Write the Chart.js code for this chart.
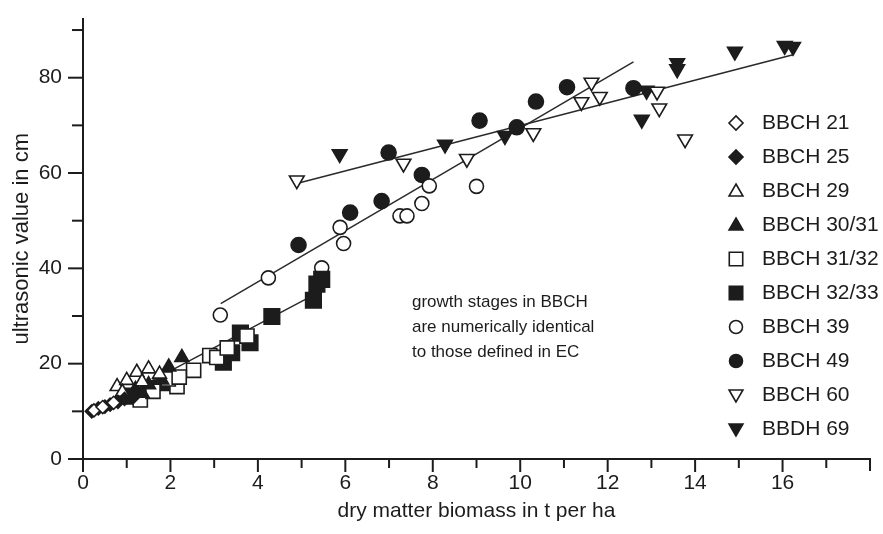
<!DOCTYPE html>
<html><head><meta charset="utf-8">
<script src="https://cdn.jsdelivr.net/npm/chart.js@4.4.0/dist/chart.umd.min.js"></script>
<style>html,body{margin:0;padding:0;background:#fff}#wrap{width:883px;height:534px;position:relative}</style>
</head><body><div id="wrap"><canvas id="c"></canvas></div>
<script>
// ---- data (dry matter biomass t/ha, ultrasonic value cm) ----
const seriesNames = ['BBCH 21','BBCH 25','BBCH 29','BBCH 30/31','BBCH 31/32','BBCH 32/33','BBCH 39','BBCH 49','BBCH 60','BBDH 69'];
const bbch21 = [[0.25,10.2],[0.45,10.9],[0.7,11.8]];
const bbch25 = [[0.2,10.0],[0.35,10.6],[0.5,11.0],[0.62,11.4],[0.8,12.0],[0.95,12.6],[1.15,13.0]];
const bbch29 = [[0.78,15.2],[1.0,16.5],[1.23,18.2],[1.5,18.9],[1.35,16.2],[1.75,17.8],[0.9,14.0]];
const bbch3031 = [[0.9,13.6],[1.2,14.6],[1.5,15.6],[1.8,16.6],[1.96,19.3],[2.26,21.3],[1.35,13.8]];
const bbch3132 = [[1.31,12.4],[1.6,14.2],[2.15,15.2],[1.95,16.8],[2.53,18.6],[2.9,21.7],[3.06,21.3],[3.3,23.3],[3.75,25.8],[2.2,17.2]];
const bbch3233 = [[1.1,13.2],[1.55,14.8],[1.85,16.0],[3.21,20.3],[3.4,22.3],[3.82,24.4],[3.6,26.4],[4.32,29.9],[5.27,33.3],[5.35,36.7],[5.46,37.7]];
const bbch39 = [[3.14,30.2],[4.24,38.0],[5.46,40.1],[5.88,48.6],[5.96,45.2],[7.25,51.0],[7.41,51.0],[7.75,53.6],[7.92,57.3],[9.0,57.2]];
const bbch49 = [[4.93,44.9],[6.11,51.7],[6.83,54.1],[6.99,64.3],[7.75,59.6],[9.07,71.0],[9.92,69.6],[10.36,75.0],[11.07,78.0],[12.59,77.8]];
const bbch60 = [[4.89,58.5],[7.33,62.0],[8.78,63.0],[10.3,68.4],[11.4,74.9],[11.63,79.0],[11.82,76.0],[13.13,77.1],[13.18,73.6],[13.77,67.1]];
const bbdh69 = [[5.87,64.0],[8.28,66.0],[9.65,67.8],[12.78,71.2],[12.89,77.3],[13.59,83.1],[13.59,81.8],[14.91,85.5],[16.05,86.7],[16.24,86.5]];
// fitted lines
const fitLow = [[0.25,10.0],[5.4,35.0]];
const fitMid = [[3.15,32.6],[12.59,83.3]];
const fitHigh = [[4.89,57.8],[16.24,84.8]];
// axis ticks
const xTickLabels = [0,2,4,6,8,10,12,14,16];
const yTickLabels = [0,20,40,60,80];
const annotationLines = ['growth stages in BBCH','are numerically identical','to those defined in EC'];

// ---- styles ----
const INK = '#1c1c1c';
const markerStyles = [
  {pointStyle:'rectRot', r:6.5, fill:false, rot:0},
  {pointStyle:'rectRot', r:6.5, fill:true, rot:0},
  {pointStyle:'triangle', r:8, fill:false, rot:0},
  {pointStyle:'triangle', r:8, fill:true, rot:0},
  {pointStyle:'rect', r:10, fill:false, rot:0},
  {pointStyle:'rect', r:11, fill:true, rot:0},
  {pointStyle:'circle', r:7, fill:false, rot:0},
  {pointStyle:'circle', r:7.5, fill:true, rot:0},
  {pointStyle:'triangle', r:8.5, fill:false, rot:180},
  {pointStyle:'triangle', r:8.5, fill:true, rot:180}
];
const seriesData = [bbch21,bbch25,bbch29,bbch3031,bbch3132,bbch3233,bbch39,bbch49,bbch60,bbdh69];
const toXY = a => a.map(p => ({x:p[0], y:p[1]}));

const datasets = seriesData.map((d,i) => ({
  label: seriesNames[i],
  data: toXY(d),
  showLine: false,
  pointStyle: markerStyles[i].pointStyle,
  pointRadius: markerStyles[i].r,
  pointRotation: markerStyles[i].rot,
  pointBackgroundColor: markerStyles[i].fill ? INK : '#ffffff',
  pointBorderColor: INK,
  pointBorderWidth: 1.6,
  order: 0
}));
[fitLow, fitMid, fitHigh].forEach((f,i) => datasets.push({
  label: 'fit' + i,
  data: toXY(f),
  showLine: true,
  borderColor: '#2a2a2a',
  borderWidth: 1.5,
  pointRadius: 0,
  fill: false,
  order: 1
}));

const FONT = "'Liberation Sans', Arial, Helvetica, sans-serif";

const axisTicksPlugin = {
  id: 'axisTicks',
  afterDraw(chart) {
    const ctx = chart.ctx, xs = chart.scales.x, ys = chart.scales.y;
    ctx.save();
    ctx.strokeStyle = INK; ctx.lineWidth = 2;
    const y0 = ys.getPixelForValue(0), x0 = xs.getPixelForValue(0);
    for (let v = 0; v <= 18; v++) {
      const px = xs.getPixelForValue(v);
      const len = v === 18 ? 12 : (xTickLabels.includes(v) ? 13 : 9);
      ctx.beginPath(); ctx.moveTo(px, y0); ctx.lineTo(px, y0 + len); ctx.stroke();
    }
    for (let v = 0; v <= 90; v += 10) {
      const py = ys.getPixelForValue(v);
      const len = yTickLabels.includes(v) ? 15 : 11;
      ctx.beginPath(); ctx.moveTo(x0, py); ctx.lineTo(x0 - len, py); ctx.stroke();
    }
    // legend
    const H = Chart.helpers;
    ctx.textBaseline = 'middle'; ctx.textAlign = 'left';
    ctx.font = '21px ' + FONT;
    seriesNames.forEach((name, i) => {
      const ms = markerStyles[i];
      const yy = 123 + 34 * i;
      ctx.fillStyle = ms.fill ? INK : '#ffffff';
      ctx.strokeStyle = INK; ctx.lineWidth = 1.6;
      const lr = ms.pointStyle === 'rect' ? 9.5 : (ms.pointStyle === 'circle' ? 6.5 : (ms.pointStyle === 'rectRot' ? 7 : 8));
      H.drawPoint(ctx, {pointStyle: ms.pointStyle, radius: lr, rotation: ms.rot, borderWidth: 1.6}, 736, yy + (ms.pointStyle==='triangle' ? (ms.rot ? -1 : 1) : 0));
      ctx.fillStyle = INK;
      ctx.fillText(name, 762, yy);
    });
    // annotation
    ctx.font = '17px ' + FONT;
    annotationLines.forEach((t, i) => ctx.fillText(t, 412, 302 + 25 * i));
    ctx.restore();
  }
};

new Chart(document.getElementById('c'), {
  type: 'scatter',
  data: { datasets },
  plugins: [axisTicksPlugin],
  options: {
    responsive: true,
    maintainAspectRatio: false,
    animation: false,
    layout: { padding: { top: 7, right: 13, left: 0, bottom: 0 } },
    plugins: { legend: { display: false }, tooltip: { enabled: false } },
    scales: {
      x: {
        type: 'linear', min: 0, max: 18,
        afterBuildTicks: s => { s.ticks = []; for (let v = 0; v <= 18; v++) s.ticks.push({value: v}); },
        afterFit: s => { s.height = 75; },
        ticks: {
          autoSkip: false, maxRotation: 0, padding: -1,
          color: INK, font: { family: FONT, size: 21 },
          callback: v => xTickLabels.includes(v) ? String(v) : ''
        },
        grid: { drawOnChartArea: false, drawTicks: true, tickLength: 13, tickColor: 'rgba(0,0,0,0)' },
        border: { display: true, color: INK, width: 2 },
        title: { display: true, text: 'dry matter biomass in t per ha', color: INK,
                 font: { family: FONT, size: 21 }, padding: { top: 0, bottom: 10 } }
      },
      y: {
        type: 'linear', min: 0, max: 92.4,
        afterBuildTicks: s => { s.ticks = []; for (let v = 0; v <= 90; v += 10) s.ticks.push({value: v}); },
        afterFit: s => { s.width = 83; },
        ticks: {
          autoSkip: false, padding: 6,
          color: INK, font: { family: FONT, size: 21 },
          callback: v => yTickLabels.includes(v) ? String(v) : ''
        },
        grid: { drawOnChartArea: false, drawTicks: true, tickLength: 15, tickColor: 'rgba(0,0,0,0)' },
        border: { display: true, color: INK, width: 2 },
        title: { display: true, text: 'ultrasonic value in cm', color: INK,
                 font: { family: FONT, size: 22 }, padding: { top: 9, bottom: 0 } }
      }
    }
  }
});
</script></body></html>
